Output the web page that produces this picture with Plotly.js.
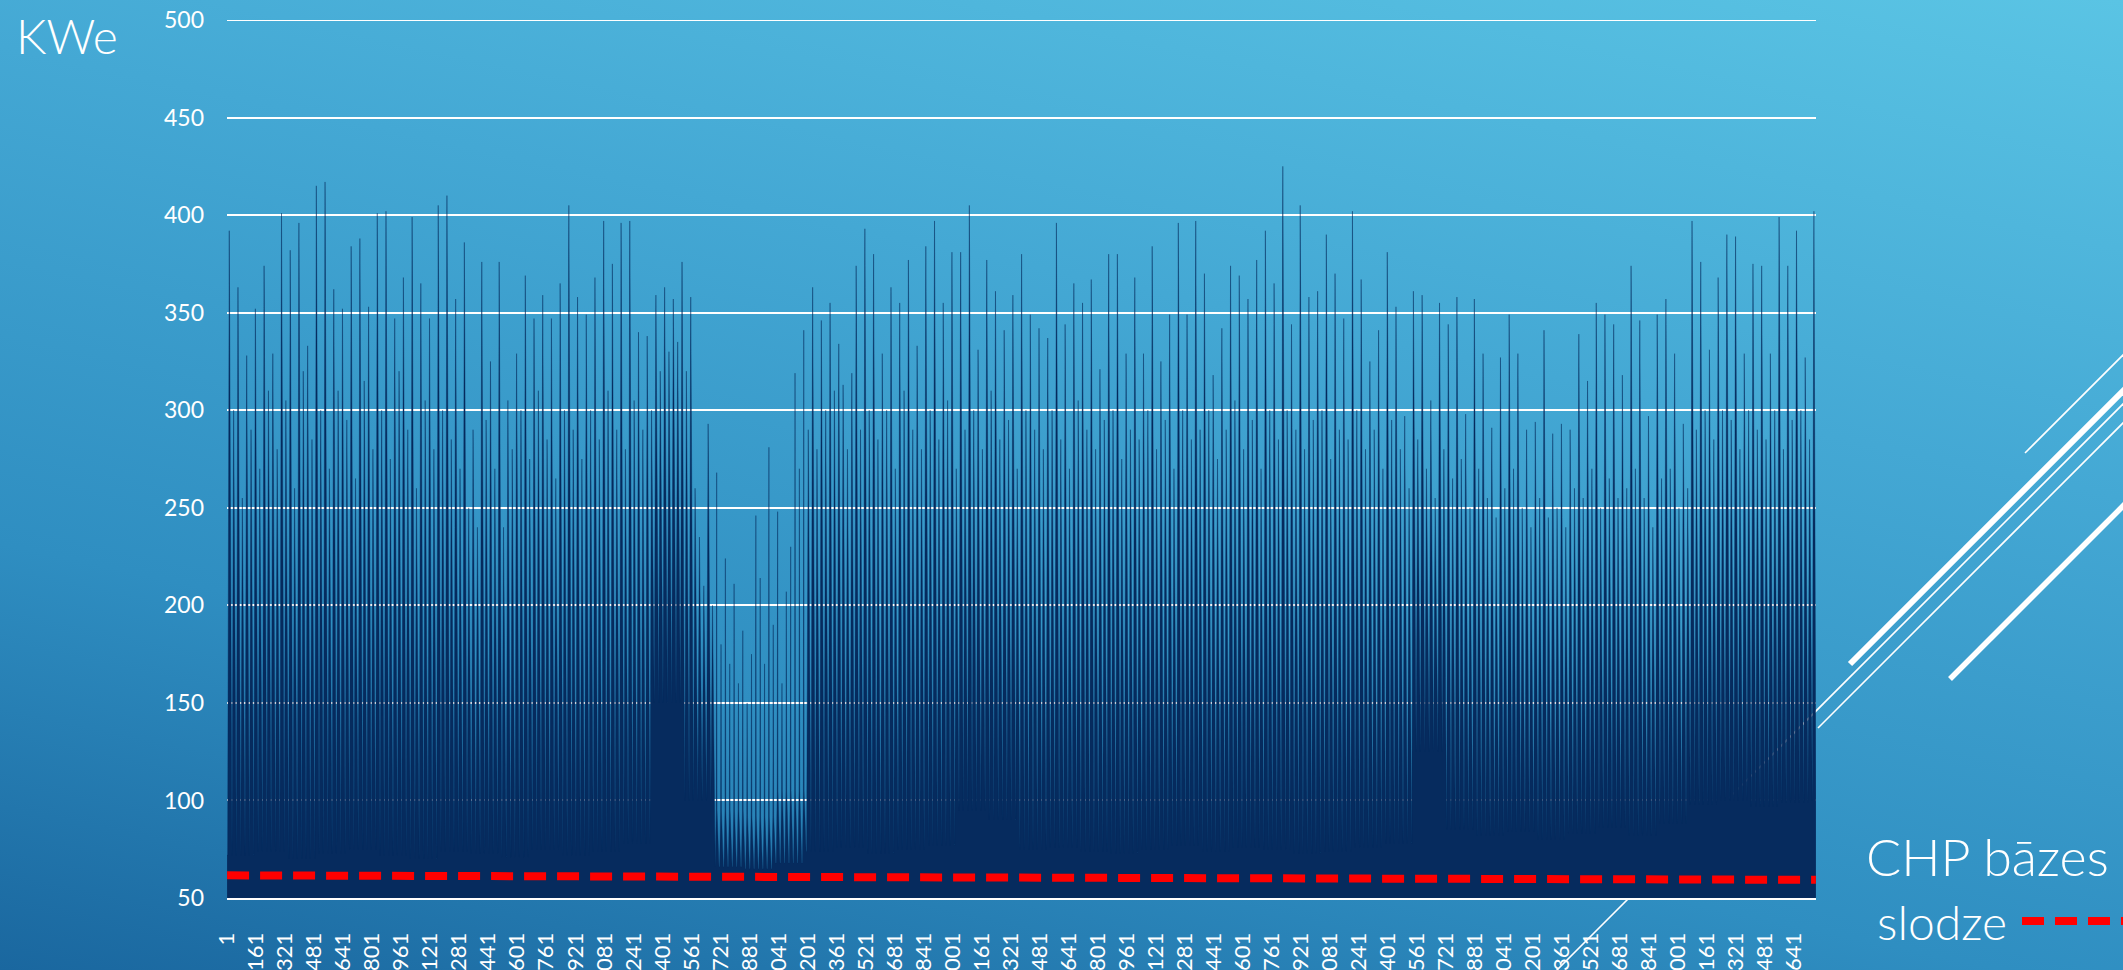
<!DOCTYPE html>
<html>
<head>
<meta charset="utf-8">
<script src="https://cdn.plot.ly/plotly-3.0.1.min.js"></script>
<style>
  html, body { margin:0; padding:0; width:2123px; height:970px; overflow:hidden;
    background: linear-gradient(192deg, #5ac4e4 0%, #44a8d4 35%, #2f8ec1 70%, #1a679f 100%); }
  #chart { width:2123px; height:970px; }
</style>
</head>
<body>
<div id="chart"></div>
<script>
// ---- DATA ----
// x-axis tick labels (hour of year)
const hourTicks = [1,161,321,481,641,801,961,1121,1281,1441,1601,1761,1921,2081,2241,2401,2561,2721,2881,3041,3201,3361,3521,3681,3841,4001,4161,4321,4481,4641,4801,4961,5121,5281,5441,5601,5761,5921,6081,6241,6401,6561,6721,6881,7041,7201,7361,7521,7681,7841,8001,8161,8321,8481,8641];

// daily peak electrical load, kWe (one value per day, 365 days)
const dailyPeak = [
 392,300,363,255,328,290,352,270,374,310,
 329,280,401,305,382,260,396,320,333,285,
 415,300,417,270,362,310,352,295,384,265,
 388,315,353,280,401,300,402,275,347,320,
 368,290,399,260,365,305,347,280,405,300,
 410,285,357,270,386,250,290,240,376,295,
 325,270,376,240,305,280,329,300,369,275,
 347,310,359,285,347,265,365,300,405,290,
 358,275,349,300,368,285,397,310,375,290,
 396,280,397,305,340,290,338,300,359,320,
 363,330,357,335,376,320,358,260,235,210,
 293,200,268,180,224,170,211,160,187,150,
 175,246,214,170,281,190,248,160,207,230,
 319,270,341,290,363,280,346,300,355,310,
 334,313,280,319,374,290,393,300,380,285,
 329,300,363,270,355,310,377,290,333,280,
 384,300,397,285,355,305,381,270,381,290,
 405,300,331,280,377,310,361,285,341,295,
 359,270,380,300,349,290,342,280,337,300,
 396,285,344,270,365,305,355,290,367,280,
 321,295,380,300,380,275,329,290,368,285,
 329,300,384,280,325,295,349,270,396,300,
 349,285,397,290,370,300,318,275,342,290,
 374,305,369,280,357,295,377,270,392,300,
 365,285,425,300,344,290,405,280,358,295,
 361,300,390,275,370,290,347,285,402,300,
 367,280,325,290,341,270,381,295,353,280,
 297,260,361,285,359,270,305,255,355,280,
 344,265,358,275,298,250,357,270,329,255,
 291,245,327,260,349,270,329,250,290,240,
 294,255,341,245,288,250,293,240,290,260,
 339,255,315,270,355,250,349,265,344,255,
 318,260,374,270,346,255,297,240,349,265,
 357,270,329,250,293,260,397,290,376,300,
 331,285,368,300,390,295,389,280,329,300,
 375,290,374,285,329,300,399,280,374,295,
 392,300,327,285,402
];

// night-time minimum load per week, kWe (53 weeks)
const weekNight = [
 72,74,70,73,75,72,70,74,73,71,75,72,74,78,
 150,100,66,65,68,
 74,76,73,75,77,95,90,75,76,74,73,75,77,74,76,75,73,74,76,78,
 125,
 85,82,84,80,83,86,82,88,
 98,100,97,99,100
];

// flat daytime load in weeks with isolated peaks (null = no plateau), kWe
const weekShoulder = [
 null,null,null,null,null,null,null,null,null,null,null,null,null,null,
 null,null,95,92,105,
 null,null,null,null,null,null,null,null,null,null,null,null,null,null,null,null,null,null,null,null,
 null,
 null,null,null,null,null,null,null,null,
 null,null,null,null,null
];

// CHP base load line (start / end of year), kWe
const chpHours = [1, 8760];
const chpBase = [61.6, 59.3];

// ---- BUILD TRACE TABLE ----
const hx = [], hy = [];
for (let d = 0; d < dailyPeak.length; d++) {
  const w = Math.floor(d / 7);
  const H = 24 * d;
  const s = weekShoulder[w];
  hx.push(H + 1, H + 4); hy.push(weekNight[w], weekNight[w]);
  if (s !== null) {
    hx.push(H + 10, H + 12, H + 14); hy.push(s, dailyPeak[d], s);
  } else {
    hx.push(H + 13); hy.push(dailyPeak[d]);
  }
}
hx.push(8760); hy.push(weekNight[weekNight.length - 1]);

const FONT = "Lato, 'Open Sans', 'DejaVu Sans', sans-serif";

const traces = [
  {
    x: hx, y: hy, type: 'scatter', mode: 'lines',
    fill: 'tozeroy', fillcolor: '#062b5e',
    line: { color: '#062b5e', width: 0.4 },
    hoverinfo: 'skip', showlegend: false
  },
  {
    x: chpHours, y: chpBase, type: 'scatter', mode: 'lines',
    name: 'CHP bāzes slodze',
    line: { color: '#ff0000', width: 8, dash: '22px,11px' },
    showlegend: false
  }
];

// pixel -> paper helpers (plot area: x 227..1816, y 20..898)
const L = 227, R = 307, T = 20, B = 72, W = 2123, Hh = 970;
const PW = W - L - R, PH = Hh - T - B;
const px = v => (v - L) / PW;
const py = v => (T + PH - v) / PH;

function seg(x0, y0, x1, y1, w, layer) {
  return { type: 'line', xref: 'paper', yref: 'paper',
    x0: px(x0), y0: py(y0), x1: px(x1), y1: py(y1),
    line: { color: '#ffffff', width: w }, layer: layer || 'above' };
}

const layout = {
  width: W, height: Hh,
  margin: { l: L, r: R, t: T, b: B, pad: 0 },
  paper_bgcolor: 'rgba(0,0,0,0)',
  plot_bgcolor: 'rgba(0,0,0,0)',
  font: { family: FONT, color: '#ffffff' },
  showlegend: false,
  xaxis: {
    type: 'linear', range: [0.5, 8760.5],
    tickmode: 'array', tickvals: hourTicks, ticktext: hourTicks.map(String),
    tickangle: -90, ticks: '', ticklabelstandoff: 24,
    tickfont: { family: FONT, size: 22, color: '#ffffff' },
    showgrid: false, zeroline: false,
    showline: true, linecolor: '#ffffff', linewidth: 2,
    automargin: false, fixedrange: true
  },
  yaxis: {
    range: [50, 500], tick0: 0, dtick: 50,
    ticks: '', ticklabelstandoff: 22,
    tickfont: { family: FONT, size: 23, color: '#ffffff' },
    showgrid: true, gridcolor: '#ffffff', gridwidth: 2,
    zeroline: false, showline: false,
    automargin: false, fixedrange: true
  },
  annotations: [
    { text: 'KWe', xref: 'paper', yref: 'paper', x: px(14), y: py(35),
      xanchor: 'left', yanchor: 'middle', showarrow: false,
      font: { family: FONT, size: 48, color: '#ffffff', weight: 300 } },
    { text: 'CHP bāzes', xref: 'paper', yref: 'paper', x: px(1864), y: py(856),
      xanchor: 'left', yanchor: 'middle', showarrow: false,
      font: { family: FONT, size: 52, color: '#ffffff', weight: 300 } },
    { text: 'slodze', xref: 'paper', yref: 'paper', x: px(1875), y: py(921),
      xanchor: 'left', yanchor: 'middle', showarrow: false,
      font: { family: FONT, size: 48, color: '#ffffff', weight: 300 } }
  ],
  shapes: [
    // top gridline at 500 (range edge)
    { type: 'line', xref: 'paper', yref: 'y', x0: 0, x1: 1, y0: 500, y1: 500,
      line: { color: '#ffffff', width: 2 }, layer: 'below' },
    // legend sample of the dashed CHP line
    { type: 'line', xref: 'paper', yref: 'paper',
      x0: px(2022), y0: py(921), x1: px(2150), y1: py(921),
      line: { color: '#ff0000', width: 8, dash: '22px,11px' } },
    // decorative diagonal lines
    seg(1555, 972, 2140, 387, 1.6, 'below'),
    seg(1818, 728, 2140, 406, 1.6),
    seg(1850, 664, 2140, 374, 6),
    seg(1950, 679, 2140, 489, 5.5),
    seg(2025, 453, 2140, 338, 1.6)
  ]
};

Plotly.newPlot('chart', traces, layout, { staticPlot: true, displayModeBar: false });
</script>
</body>
</html>
